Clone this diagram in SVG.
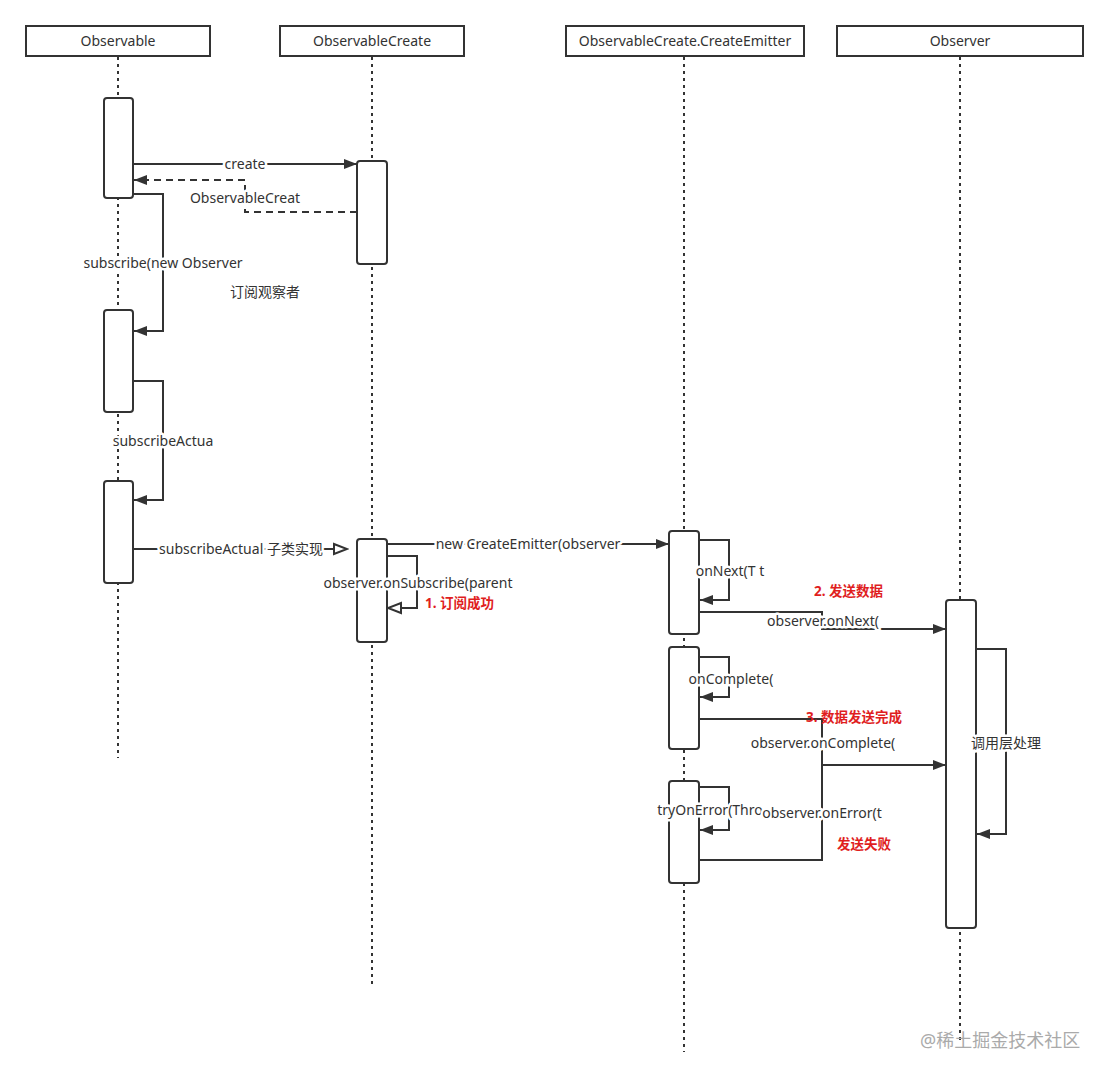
<svg xmlns="http://www.w3.org/2000/svg" width="1109" height="1080" viewBox="0 0 1109 1080">
<style>
.hdr{fill:#fff;stroke:#333;stroke-width:2}
.act{fill:#fff;stroke:#333;stroke-width:2}
.life{stroke:#333;stroke-width:2;stroke-dasharray:3 4;fill:none}
.ln{stroke:#333;stroke-width:2;fill:none}
.dash{stroke:#333;stroke-width:2;fill:none;stroke-dasharray:7 5}
text{font-family:"Noto Sans","Noto Sans CJK SC",sans-serif;font-size:14px;fill:#333}
.t{text-anchor:middle}
.lb{stroke:#fff;stroke-width:5;paint-order:stroke;stroke-linejoin:round}
.red{fill:#e01e1e;font-weight:bold;font-size:13.5px}
.wm{fill:#aaa;font-size:18px}
</style>
<defs>
<marker id="af" markerUnits="userSpaceOnUse" markerWidth="14" markerHeight="12" refX="13" refY="6" orient="auto"><path d="M0,1 L13,6 L0,11 z" fill="#333"/></marker>
<marker id="ao" markerUnits="userSpaceOnUse" markerWidth="16" markerHeight="14" refX="14" refY="7" orient="auto"><path d="M1,2 L14,7 L1,12 z" fill="#fff" stroke="#333" stroke-width="2"/></marker>
</defs>
<g id="lifelines">
<line class="life" x1="118" y1="57" x2="118" y2="758"/>
<line class="life" x1="372" y1="57" x2="372" y2="988"/>
<line class="life" x1="684" y1="57" x2="684" y2="1052"/>
<line class="life" x1="960" y1="57" x2="960" y2="1044"/>
</g>
<g id="h-observable"><rect class="hdr" x="26" y="26" width="184" height="30"/><text class="t" x="118" y="46">Observable</text></g>
<g id="h-observablecreate"><rect class="hdr" x="280" y="26" width="184" height="30"/><text class="t" x="372" y="46">ObservableCreate</text></g>
<g id="h-emitter"><rect class="hdr" x="566" y="26" width="238" height="30"/><text class="t" x="685" y="46">ObservableCreate.CreateEmitter</text></g>
<g id="h-observer"><rect class="hdr" x="837" y="26" width="246" height="30"/><text class="t" x="960" y="46">Observer</text></g>
<g id="activations">
<g id="a-obs1"><rect class="act" x="104" y="98" width="29" height="100" rx="3"/></g>
<g id="a-obs2"><rect class="act" x="104" y="310" width="29" height="102" rx="3"/></g>
<g id="a-obs3"><rect class="act" x="104" y="481" width="29" height="102" rx="3"/></g>
<g id="a-oc1"><rect class="act" x="357" y="161" width="30" height="103" rx="3"/></g>
<g id="a-oc2"><rect class="act" x="357" y="539" width="30" height="103" rx="3"/></g>
<g id="a-em1"><rect class="act" x="669" y="531" width="30" height="103" rx="3"/></g>
<g id="a-em2"><rect class="act" x="669" y="647" width="30" height="102" rx="3"/></g>
<g id="a-em3"><rect class="act" x="669" y="781" width="30" height="102" rx="3"/></g>
<g id="a-obr"><rect class="act" x="946" y="600" width="30" height="328" rx="3"/></g>
</g>
<g id="connectors">
<path class="ln" d="M133,164 H357" marker-end="url(#af)"/>
<path class="dash" d="M357,212 H245 V180 H134" marker-end="url(#af)"/>
<path class="ln" d="M133,194 H163 V331 H134" marker-end="url(#af)"/>
<path class="ln" d="M133,381 H163 V500 H134" marker-end="url(#af)"/>
<path class="ln" d="M133,549 H347" marker-end="url(#ao)"/>
<path class="ln" d="M387,544 H669" marker-end="url(#af)"/>
<path class="ln" d="M387,556 H417 V608 H388" marker-end="url(#ao)"/>
<path class="ln" d="M699,540 H729 V600 H700" marker-end="url(#af)"/>
<path class="ln" d="M699,612 H822 V629 H946" marker-end="url(#af)"/>
<path class="ln" d="M699,657 H729 V697 H700" marker-end="url(#af)"/>
<path class="ln" d="M699,719 H822 V765 H946" marker-end="url(#af)"/>
<path class="ln" d="M699,787 H729 V830 H700" marker-end="url(#af)"/>
<path class="ln" d="M699,860 H822 V765"/>
<path class="ln" d="M976,649 H1006 V834 H977" marker-end="url(#af)"/>
</g>
<g id="labels">
<text class="t lb" x="245" y="169">create</text>
<text class="t lb" x="245" y="203">ObservableCreat</text>
<text class="t lb" x="163" y="268">subscribe(new Observer</text>
<text class="t" x="265" y="297">订阅观察者</text>
<text class="t lb" x="163" y="446">subscribeActua</text>
<text class="t lb" x="241" y="554">subscribeActual 子类实现</text>
<text class="t lb" x="528" y="549">new CreateEmitter(observer</text>
<text class="t lb" x="418" y="588">observer.onSubscribe(parent</text>
<text class="red" x="425" y="608">1. 订阅成功</text>
<text class="t lb" x="730" y="576">onNext(T t</text>
<text class="red" x="814" y="596">2. 发送数据</text>
<text class="t lb" x="823" y="626">observer.onNext(</text>
<text class="t lb" x="731" y="684">onComplete(</text>
<text class="red" x="806" y="722">3. 数据发送完成</text>
<text class="t lb" x="823" y="748">observer.onComplete(</text>
<text class="t lb" x="1006" y="748">调用层处理</text>
<text class="t lb" x="710" y="815">tryOnError(Thro</text>
<text class="t lb" x="822" y="818">observer.onError(t</text>
<text class="red" x="837" y="849">发送失败</text>
<text class="wm" x="920" y="1047">@稀土掘金技术社区</text>
</g>
</svg>
